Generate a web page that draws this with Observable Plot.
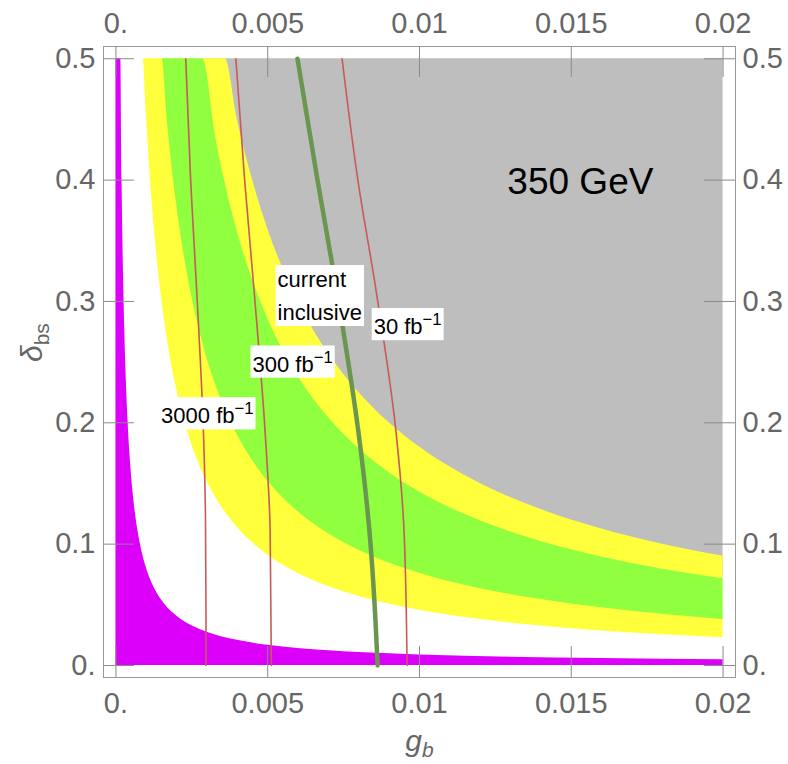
<!DOCTYPE html>
<html><head><meta charset="utf-8">
<script src="https://cdn.jsdelivr.net/npm/d3@7"></script>
<script src="https://cdn.jsdelivr.net/npm/@observablehq/plot@0.6"></script>
<style>body{margin:0;background:#fff;} svg{display:block}</style>
</head><body><div id="chart"></div>
<script>
// ---------- data ----------
const gbTicks = [0, 0.005, 0.01, 0.015, 0.02];
const gbTickLabels = ["0.", "0.005", "0.01", "0.015", "0.02"];
const dbsTicks = [0, 0.1, 0.2, 0.3, 0.4, 0.5];
const dbsTickLabels = ["0.", "0.1", "0.2", "0.3", "0.4", "0.5"];
const dbsMax = 0.5;

// shaded bands: x grid and boundaries (delta_bs)
const bandGb    = [0.00091, 0.001, 0.0011, 0.0012, 0.0013, 0.00152, 0.0017, 0.002, 0.0023, 0.00286, 0.0033, 0.0036, 0.004, 0.0045, 0.005, 0.006, 0.007, 0.008, 0.009, 0.01, 0.012, 0.014, 0.016, 0.018, 0.02];
const yellowLow = [0.5, 0.455, 0.4136, 0.3792, 0.35, 0.2993, 0.2676, 0.2275, 0.1978, 0.1591, 0.1379, 0.1264, 0.1138, 0.1011, 0.091, 0.0758, 0.065, 0.0569, 0.0506, 0.0455, 0.0379, 0.0325, 0.0284, 0.0253, 0.0228];
const greenLow  = [0.5, 0.5, 0.5, 0.5, 0.5, 0.5, 0.4471, 0.38, 0.3304, 0.2657, 0.2303, 0.2111, 0.19, 0.1689, 0.152, 0.1267, 0.1086, 0.095, 0.0844, 0.076, 0.0633, 0.0543, 0.0475, 0.0422, 0.038];
const greenHigh = [0.5, 0.5, 0.5, 0.5, 0.5, 0.5, 0.5, 0.5, 0.5, 0.5, 0.4333, 0.3972, 0.3575, 0.3178, 0.286, 0.2383, 0.2043, 0.1788, 0.1589, 0.143, 0.1192, 0.1021, 0.0894, 0.0794, 0.0715];
const grayLow   = [0.5, 0.5, 0.5, 0.5, 0.5, 0.5, 0.5, 0.5, 0.5, 0.5, 0.5, 0.5, 0.45, 0.40, 0.36, 0.30, 0.2571, 0.225, 0.20, 0.18, 0.15, 0.1286, 0.1125, 0.10, 0.09];

// magenta region (upper boundary)
const magGb  = [0, 0.00016, 0.0002, 0.00025, 0.0003, 0.0004, 0.0005, 0.0006, 0.0008, 0.001, 0.0013, 0.0016, 0.002, 0.0025, 0.003, 0.004, 0.005, 0.006, 0.008, 0.01, 0.013, 0.016, 0.02];
const magTop = [0.5, 0.5, 0.4007, 0.3207, 0.2674, 0.2007, 0.1607, 0.134, 0.1007, 0.0807, 0.0622, 0.0507, 0.0407, 0.0327, 0.0274, 0.0207, 0.0167, 0.014, 0.0107, 0.0087, 0.0068, 0.0057, 0.0047];

// luminosity contours (g_b as function of delta_bs)
const l3000Dbs = [0, 0.12, 0.194, 0.309, 0.4, 0.5];
const l3000Gb  = [0.00297, 0.00295, 0.00288, 0.00266, 0.00246, 0.0023];
const l300Dbs  = [0, 0.111, 0.194, 0.309, 0.4, 0.5];
const l300Gb   = [0.00512, 0.00508, 0.00491, 0.00455, 0.00424, 0.00395];
const l30Dbs   = [0, 0.111, 0.194, 0.309, 0.4, 0.5];
const l30Gb    = [0.00959, 0.00949, 0.00922, 0.00857, 0.00797, 0.00745];
const curDbs   = [0, 0.037, 0.111, 0.194, 0.282, 0.334, 0.4, 0.5];
const curGb    = [0.00862, 0.00855, 0.00835, 0.00798, 0.00745, 0.0071, 0.00664, 0.00598];

// labels
const labelText   = ["current\ninclusive", "30 fb^−1", "300 fb^−1", "3000 fb^−1"];
const labelGb     = [0.005325, 0.00961, 0.00582, 0.00301];
const labelDbs    = [0.307, 0.2788, 0.2479, 0.2053];
const massText = ["350 GeV"];
const massGb   = [0.0153];
const massDbs  = [0.3987];
const xLabel = ["g_b"];
const yLabel = ["δ_bs"];

// ---------- layout ----------
const W = 788, H = 764, ML = 103, MR = 53, MT = 46, MB = 87;
const innerW = W - ML - MR, innerH = H - MT - MB;
const TICK = 31;
const font = "'Liberation Sans', Arial, Helvetica, sans-serif";
const tickColor = "#8a8a8a", labelColor = "#666666";

const svg = Plot.plot({
  width: W, height: H,
  marginLeft: ML, marginRight: MR, marginTop: MT, marginBottom: MB,
  style: {fontFamily: font, background: "white", overflow: "visible"},
  x: {domain: [-0.00041, 0.02041], axis: null},
  y: {domain: [-0.0099, 0.5101], axis: null},
  marks: [
    Plot.areaY(bandGb, {x: bandGb, y1: greenHigh, y2: () => dbsMax, fill: "#bebebe", curve: "monotone-x"}),
    Plot.areaY(bandGb, {x: bandGb, y1: yellowLow, y2: grayLow, fill: "#ffff3c", curve: "monotone-x"}),
    Plot.areaY(bandGb, {x: bandGb, y1: greenLow, y2: greenHigh, fill: "#8fff3f", curve: "monotone-x"}),
    Plot.areaY(magGb, {x: magGb, y1: () => 0, y2: magTop, fill: "#dc00fa", curve: "monotone-x"}),
    Plot.line(l3000Dbs, {x: l3000Gb, y: l3000Dbs, stroke: "#c85a5a", strokeWidth: 1.6, curve: "monotone-y"}),
    Plot.line(l300Dbs, {x: l300Gb, y: l300Dbs, stroke: "#c85a5a", strokeWidth: 1.6, curve: "monotone-y"}),
    Plot.line(l30Dbs, {x: l30Gb, y: l30Dbs, stroke: "#c85a5a", strokeWidth: 1.6, curve: "monotone-y"}),
    Plot.line(curDbs, {x: curGb, y: curDbs, stroke: "#6a9650", strokeWidth: 4.5, curve: "monotone-y"}),
    Plot.frame({stroke: "#9a9a9a"}),
    Plot.tickX(gbTicks, {x: d => d, stroke: tickColor, insetTop: innerH - TICK}),
    Plot.tickX(gbTicks, {x: d => d, stroke: tickColor, insetBottom: innerH - TICK}),
    Plot.tickY(dbsTicks, {y: d => d, stroke: tickColor, insetRight: innerW - TICK}),
    Plot.tickY(dbsTicks, {y: d => d, stroke: tickColor, insetLeft: innerW - TICK}),
    Plot.text(gbTicks, {x: d => d, text: gbTickLabels, frameAnchor: "bottom", lineAnchor: "bottom", dy: 35, fontSize: 29, fill: labelColor}),
    Plot.text(gbTicks, {x: d => d, text: gbTickLabels, frameAnchor: "top", lineAnchor: "bottom", dy: -14, fontSize: 29, fill: labelColor}),
    Plot.text(dbsTicks, {y: d => d, text: dbsTickLabels, frameAnchor: "left", textAnchor: "end", dx: -8, fontSize: 29, fill: labelColor}),
    Plot.text(dbsTicks, {y: d => d, text: dbsTickLabels, frameAnchor: "right", textAnchor: "start", dx: 7, fontSize: 29, fill: labelColor}),
    Plot.text(xLabel, {text: d => d, frameAnchor: "bottom", lineAnchor: "bottom", dy: 73, fontSize: 30, fontStyle: "italic", fill: labelColor}),
    Plot.text(yLabel, {text: d => d, frameAnchor: "left", rotate: -90, dx: -71, fontSize: 30, fontStyle: "italic", fill: labelColor}),
    Plot.text(massText, {x: massGb, y: massDbs, text: d => d, fontSize: 37, fill: "black"}),
    Plot.text([0], {x: i => labelGb[i], y: i => labelDbs[i], text: i => labelText[i], textAnchor: "start", fontSize: 22, lineHeight: 1.5, fill: "black"}),
    Plot.text([1, 2, 3], {x: i => labelGb[i], y: i => labelDbs[i], text: i => labelText[i], fontSize: 22, fill: "black"})
  ]
});
document.getElementById("chart").appendChild(svg);

// ---------- rich text: superscripts / subscripts, and white label boxes ----------
const NS = "http://www.w3.org/2000/svg";
const boxed = new Set(labelText.map(s => s.replace(/\n/g, "")));
svg.querySelectorAll("text").forEach(t => {
  const original = t.textContent;
  if (!t.querySelector("tspan")) {
    const m = original.match(/^(.*?)([\^_])(.*)$/);
    if (m) {
      const fs = parseFloat(getComputedStyle(t).fontSize) || 20;
      t.textContent = m[1];
      const ts = document.createElementNS(NS, "tspan");
      ts.textContent = m[3];
      if (m[2] === "^") {
        ts.setAttribute("dy", (-0.42 * fs).toFixed(1));
        ts.setAttribute("font-size", (0.76 * fs).toFixed(1));
      } else {
        ts.setAttribute("dy", (0.22 * fs).toFixed(1));
        ts.setAttribute("font-size", (0.7 * fs).toFixed(1));
        if (m[3] === "bs") ts.setAttribute("font-style", "normal");
      }
      t.appendChild(ts);
    }
  }
  if (boxed.has(original)) {
    const b = t.getBBox();
    const r = document.createElementNS(NS, "rect");
    r.setAttribute("x", b.x - 2);
    r.setAttribute("y", b.y - 2);
    r.setAttribute("width", b.width + 4);
    r.setAttribute("height", b.height + 3);
    r.setAttribute("fill", "white");
    r.setAttribute("stroke", "none");
    if (t.getAttribute("transform")) r.setAttribute("transform", t.getAttribute("transform"));
    t.parentNode.insertBefore(r, t);
  }
});
</script>
</body></html>
